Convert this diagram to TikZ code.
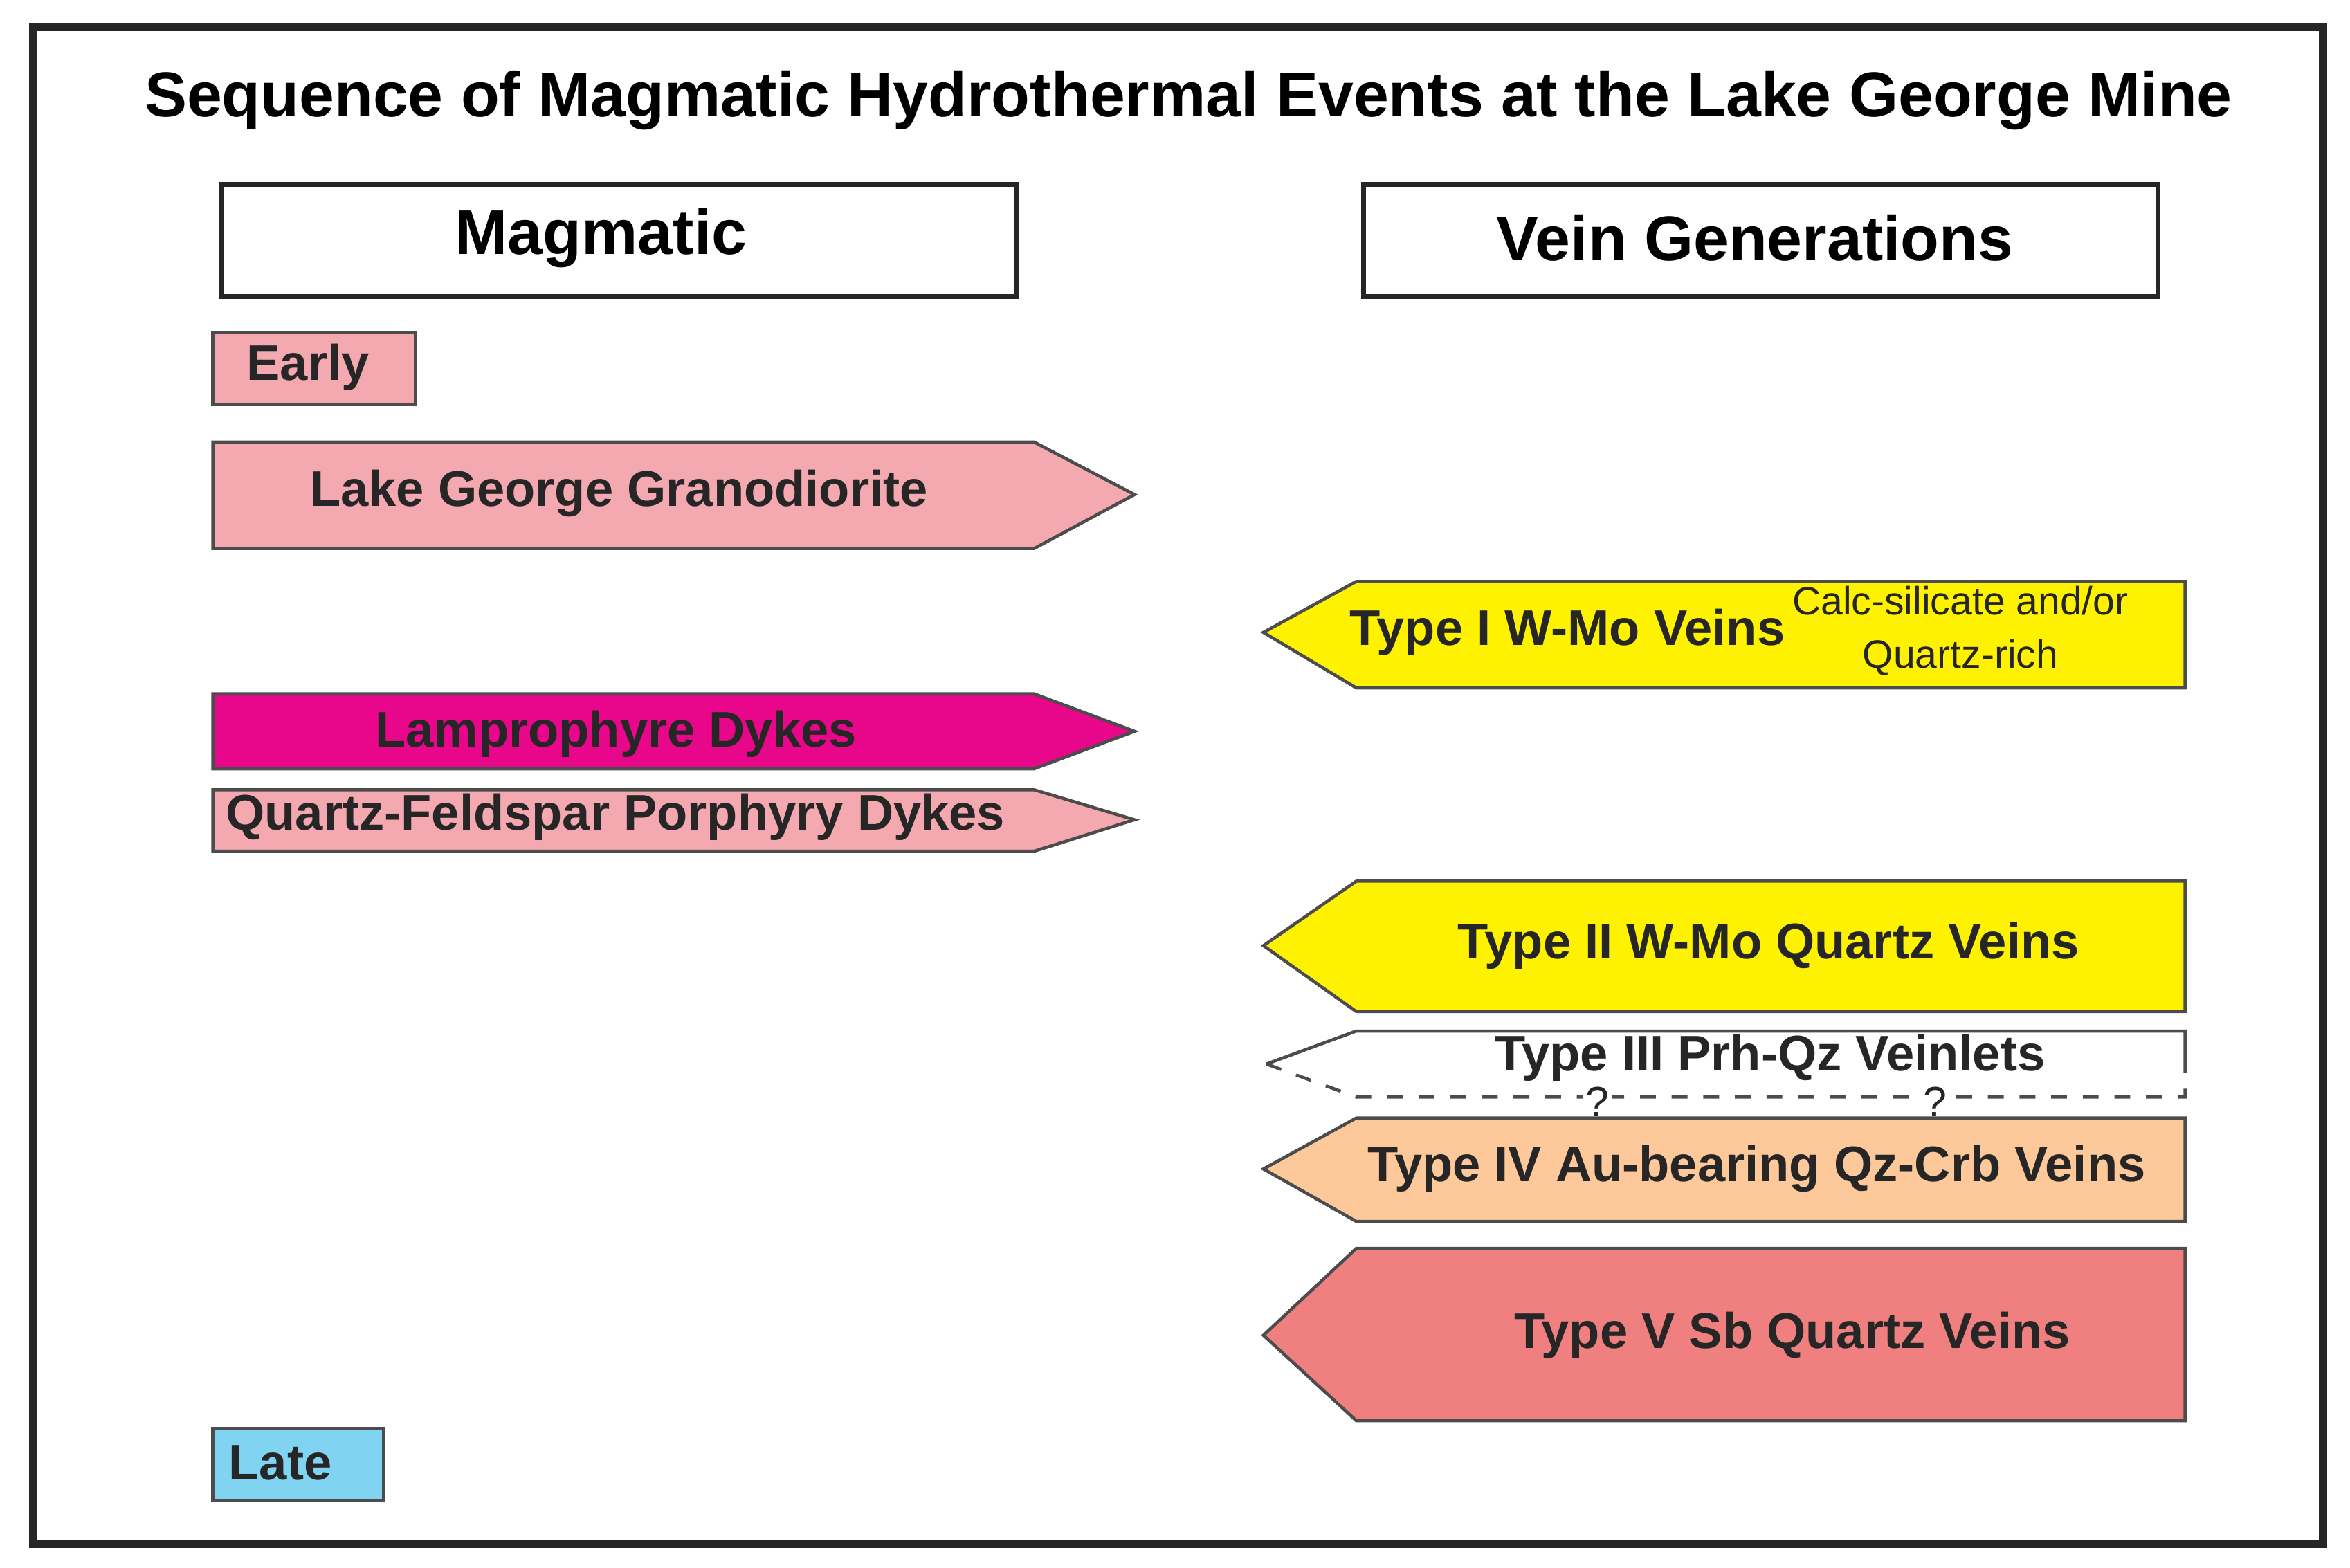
\documentclass[tikz,border=0pt]{standalone}
\usepackage{fontspec}
\setmainfont{Liberation Sans}
\tikzset{
  frame/.style={draw=black!85, line width=1.6pt},
  head/.style={draw=black!85, line width=0.9pt},
  bar/.style={draw=black!70, line width=0.6pt},
  lbl/.style={font=\bfseries\fontsize{9.5}{11}\selectfont, text=black!85, inner sep=0pt},
}
\definecolor{pinkgr}{HTML}{F4A9B0}
\definecolor{lampro}{HTML}{E8068A}
\definecolor{veinyel}{HTML}{FFF200}
\definecolor{peach}{HTML}{FDC99B}
\definecolor{salmon}{HTML}{F08080}
\definecolor{lateblue}{HTML}{80D4F2}
\begin{document}
\begin{tikzpicture}[x=0.01cm,y=0.01cm]
    \useasboundingbox (0,0) rectangle (1568,1046);
    \draw[frame] (22,16) rectangle (1550,1028);

    % title and column heads
    \node (title) at (793,979) {\bfseries\fontsize{12}{14}\selectfont Sequence of Magmatic Hydrothermal Events at the Lake George Mine};
    \draw[head] (148,848) rectangle (678,923);
    \node (magmatic) at (401,887) {\bfseries\fontsize{12}{14}\selectfont Magmatic};
    \draw[head] (910,848) rectangle (1440,923);
    \node (veingen) at (1171,887) {\bfseries\fontsize{12}{14}\selectfont Vein Generations};

    % magmatic events
    \draw[bar, fill=pinkgr] (142,776) rectangle (277,824);
    \node[lbl, anchor=west] (early) at (164,801) {Early};
    \draw[bar, fill=pinkgr] (142,680) -- (690,680) -- (757,716) -- (690,751) -- (142,751) -- cycle;
    \node[lbl] (granodiorite) at (413,717) {Lake George Granodiorite};
    \draw[bar, fill=lampro] (142,533) -- (690,533) -- (757,558) -- (690,583) -- (142,583) -- cycle;
    \node[lbl] (lamprophyre) at (411,556) {Lamprophyre Dykes};
    \draw[bar, fill=pinkgr] (142,478) -- (690,478) -- (757,499) -- (690,519) -- (142,519) -- cycle;
    \node[lbl, anchor=west] (porphyry) at (150,501) {Quartz-Feldspar Porphyry Dykes};
    \draw[bar, fill=lateblue] (142,45) rectangle (256,93);
    \node[lbl, anchor=west] (late) at (152,70) {Late};

    % vein generations
    \draw[bar, fill=veinyel] (1458,587) -- (905,587) -- (843,624) -- (905,658) -- (1458,658) -- cycle;
    \node[lbl, anchor=west] (typeI) at (900,624) {Type I W-Mo Veins};
    \node[font=\fontsize{7.5}{10}\selectfont, text=black!85, align=center] (calc) at (1308,625) {Calc-silicate and/or\\Quartz-rich};
    \draw[bar, fill=veinyel] (1458,371) -- (905,371) -- (843,415) -- (905,458) -- (1458,458) -- cycle;
    \node[lbl] (typeII) at (1180,415) {Type II W-Mo Quartz Veins};
    \draw[bar] (1458,341) -- (1458,358) -- (905,358) -- (845,336);
    \draw[bar, dashed] (845,336) -- (905,314) -- (1458,314) -- (1458,341);
    \node[lbl] (typeIII) at (1181,340) {Type III Prh-Qz Veinlets};
    \node[font=\fontsize{8}{9}\selectfont, text=black!85, fill=white, inner sep=0.5pt] (q1) at (1066,311) {?};
    \node[font=\fontsize{8}{9}\selectfont, text=black!85, fill=white, inner sep=0.5pt] (q2) at (1291,311) {?};
    \draw[bar, fill=peach] (1458,231) -- (905,231) -- (843,266) -- (905,300) -- (1458,300) -- cycle;
    \node[lbl] (typeIV) at (1172,266) {Type IV Au-bearing Qz-Crb Veins};
    \draw[bar, fill=salmon] (1458,98) -- (905,98) -- (843,155) -- (905,213) -- (1458,213) -- cycle;
    \node[lbl] (typeV) at (1196,155) {Type V Sb Quartz Veins};
\end{tikzpicture}
\end{document}
